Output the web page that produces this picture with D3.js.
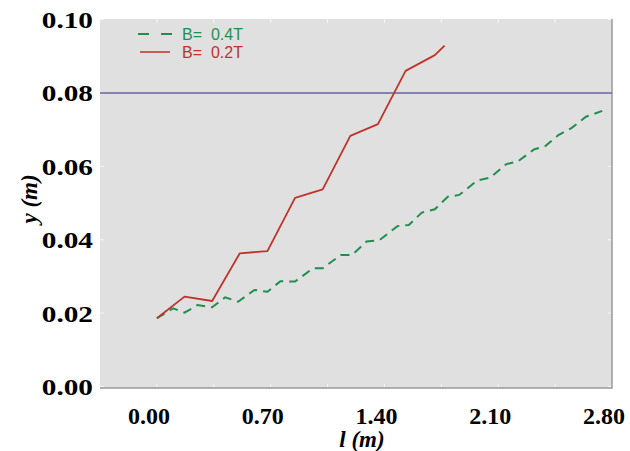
<!DOCTYPE html>
<html>
<head>
<meta charset="utf-8">
<script src="https://cdn.jsdelivr.net/npm/d3@7"></script>
<style>
  body { margin: 0; background: #fff; }
  svg { display: block; }
</style>
</head>
<body>
<svg id="chart" width="630" height="451"></svg>
<script>
// trajectory for B = 0.2T (solid red)
const redL = [0.00, 0.17, 0.34, 0.51, 0.68, 0.85, 1.02, 1.19, 1.36, 1.53, 1.71, 1.77];
const redY = [0.0186, 0.0245, 0.0233, 0.0363, 0.0369, 0.0514, 0.0537, 0.0683, 0.0715, 0.0860, 0.0903, 0.0929];

// trajectory for B = 0.4T (dashed green)
const greenL = [0.00, 0.10, 0.17, 0.25, 0.34, 0.42, 0.50, 0.60, 0.68, 0.76, 0.85, 0.96, 1.02,
  1.13, 1.20, 1.29, 1.37, 1.48, 1.55, 1.63, 1.71, 1.79, 1.86, 1.97, 2.05, 2.15, 2.22,
  2.32, 2.39, 2.47, 2.55, 2.64, 2.74];
const greenY = [0.0186, 0.0213, 0.0201, 0.0222, 0.0216, 0.0243, 0.0231, 0.0263, 0.0258, 0.0287,
  0.0286, 0.0322, 0.0322, 0.0358, 0.0358, 0.0395, 0.0399, 0.0437, 0.0440, 0.0474, 0.0483,
  0.0517, 0.0522, 0.0561, 0.0569, 0.0606, 0.0613, 0.0646, 0.0655, 0.0685, 0.0704, 0.0735, 0.0751];

const limitY = 0.08;
const xTickLabels = [0.00, 0.70, 1.40, 2.10, 2.80];
const yTickLabels = [0.00, 0.02, 0.04, 0.06, 0.08, 0.10];
const minorX = [0.00, 0.35, 0.70, 1.05, 1.40, 1.75, 2.10, 2.45];
const legendLabels = ["B=  0.4T", "B=  0.2T"];

const box = {left: 100, right: 612, top: 19, bottom: 388};

const svg = d3.select("#chart");

const x = d3.scaleLinear().domain([-0.35, 2.8]).range([box.left, box.right]);
const y = d3.scaleLinear().domain([0, 0.1]).range([386.5, 19.5]);

const green = "#1f8f4e", red = "#c0322b";

// plot background
svg.append("rect")
  .attr("x", box.left).attr("y", box.top)
  .attr("width", box.right - box.left).attr("height", box.bottom - box.top)
  .attr("fill", "#e0e0e0");

// faint inner tick marks
const tk = svg.append("g").attr("stroke", "#f6f6f6").attr("stroke-width", 1);
minorX.forEach(v => {
  tk.append("line").attr("x1", x(v)).attr("x2", x(v)).attr("y1", box.top).attr("y2", box.top + 4);
  tk.append("line").attr("x1", x(v)).attr("x2", x(v)).attr("y1", box.bottom - 4).attr("y2", box.bottom);
});
yTickLabels.forEach(v => {
  tk.append("line").attr("x1", box.left).attr("x2", box.left + 4).attr("y1", y(v)).attr("y2", y(v));
  tk.append("line").attr("x1", box.right - 4).attr("x2", box.right).attr("y1", y(v)).attr("y2", y(v));
});

// right and bottom frame
svg.append("path")
  .attr("d", `M${box.right},${box.top}V${box.bottom}H${box.left}`)
  .attr("fill", "none").attr("stroke", "#999").attr("stroke-width", 1.5);

// horizontal reference at y = 0.08
svg.append("line")
  .attr("x1", box.left).attr("x2", box.right)
  .attr("y1", y(limitY)).attr("y2", y(limitY))
  .attr("stroke", "#6464a0").attr("stroke-width", 1.5);

const line = d3.line().x(d => x(d[0])).y(d => y(d[1]));

svg.append("path")
  .datum(d3.zip(greenL, greenY))
  .attr("d", line)
  .attr("fill", "none")
  .attr("stroke", green)
  .attr("stroke-width", 2)
  .attr("stroke-dasharray", "9,6");

svg.append("path")
  .datum(d3.zip(redL, redY))
  .attr("d", line)
  .attr("fill", "none")
  .attr("stroke", red)
  .attr("stroke-width", 1.8)
  .attr("stroke-linejoin", "round");

// legend
const lg = svg.append("g").attr("font-family", "'Liberation Sans', Arial, sans-serif").attr("font-size", 16);
lg.append("line").attr("x1", 138).attr("x2", 172).attr("y1", 34).attr("y2", 34)
  .attr("stroke", green).attr("stroke-width", 2).attr("stroke-dasharray", "11,12");
lg.append("line").attr("x1", 140).attr("x2", 170).attr("y1", 52).attr("y2", 52)
  .attr("stroke", red).attr("stroke-width", 1.5);
lg.selectAll("text").data(legendLabels).enter().append("text")
  .attr("x", 182).attr("y", (d, i) => 34 + i * 18)
  .attr("dy", "0.36em")
  .attr("fill", (d, i) => i ? red : green)
  .style("white-space", "pre")
  .text(d => d);

// tick labels (y labels are drawn a bit wider)
const serif = "'Liberation Serif', 'Times New Roman', serif";
svg.append("g").selectAll("text").data(yTickLabels).enter().append("text")
  .attr("transform", d => `translate(93,${y(d)}) scale(1.22,1)`)
  .attr("dy", "0.35em")
  .attr("text-anchor", "end")
  .attr("font-family", serif).attr("font-weight", "bold").attr("font-size", 24)
  .text(d => d.toFixed(2));

svg.append("g").selectAll("text").data(xTickLabels).enter().append("text")
  .attr("x", d => x(d) - 8).attr("y", 424)
  .attr("text-anchor", "middle")
  .attr("font-family", serif).attr("font-weight", "bold").attr("font-size", 24)
  .text(d => d.toFixed(2));

// axis titles
svg.append("text")
  .attr("transform", "translate(37,199) rotate(-90)")
  .attr("text-anchor", "middle")
  .attr("font-family", serif).attr("font-weight", "bold").attr("font-style", "italic").attr("font-size", 23)
  .text("y (m)");

svg.append("text")
  .attr("x", 362).attr("y", 447)
  .attr("text-anchor", "middle")
  .attr("font-family", serif).attr("font-weight", "bold").attr("font-style", "italic").attr("font-size", 23)
  .text("l (m)");
</script>
</body>
</html>
